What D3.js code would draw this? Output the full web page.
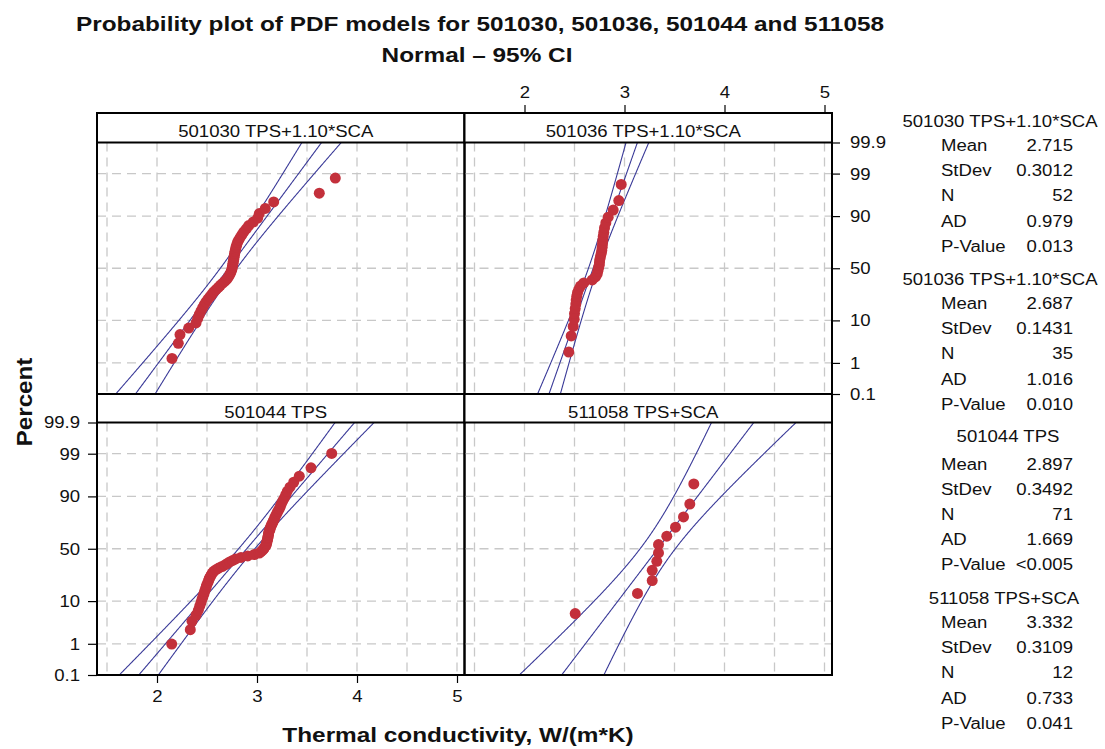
<!DOCTYPE html>
<html>
<head>
<meta charset="utf-8">
<script src="https://cdn.jsdelivr.net/npm/d3@7"></script>
<style>
  body { margin: 0; background: #fff; }
  svg { display: block; }
  svg text { font-family: "Liberation Sans", Arial, Helvetica, sans-serif; fill: #111; }
</style>
</head>
<body>
<div id="vis"></div>
<script>
// ---- data ----
const groups = ['501030 TPS+1.10*SCA', '501036 TPS+1.10*SCA', '501044 TPS', '511058 TPS+SCA']
const means = [2.715, 2.687, 2.897, 3.332]
const stdevs = [0.3012, 0.1431, 0.3492, 0.3109]
const counts = [52, 35, 71, 12]
const adStats = ['0.979', '1.016', '1.669', '0.733']
const pValues = ['0.013', '0.010', '<0.005', '0.041']

// sorted observations (W/(m*K)) per group
const obs501030 = [2.150, 2.213, 2.230, 2.317, 2.390, 2.407, 2.423, 2.440, 2.457, 2.473,
  2.490, 2.510, 2.530, 2.550, 2.567, 2.590, 2.613, 2.633, 2.657, 2.680,
  2.700, 2.713, 2.725, 2.735, 2.743, 2.749, 2.753, 2.757, 2.760, 2.763,
  2.767, 2.770, 2.773, 2.777, 2.781, 2.786, 2.791, 2.798, 2.806, 2.818,
  2.833, 2.850, 2.868, 2.893, 2.917, 2.963, 3.007, 3.023, 3.083, 3.167,
  3.623, 3.783]
const obs501036 = [2.443, 2.467, 2.487, 2.497, 2.500, 2.507, 2.513, 2.517, 2.523, 2.530,
  2.543, 2.560, 2.593, 2.677, 2.710, 2.727, 2.733, 2.740, 2.747, 2.750,
  2.753, 2.760, 2.767, 2.773, 2.777, 2.780, 2.783, 2.787, 2.793, 2.800,
  2.813, 2.837, 2.887, 2.943, 2.967]
const obs501044 = [2.147, 2.333, 2.350, 2.390, 2.413, 2.427, 2.440, 2.450, 2.460, 2.470,
  2.477, 2.487, 2.493, 2.500, 2.510, 2.517, 2.523, 2.533, 2.543, 2.553,
  2.567, 2.590, 2.617, 2.650, 2.680, 2.703, 2.727, 2.757, 2.787, 2.840,
  2.907, 2.973, 3.023, 3.040, 3.057, 3.067, 3.077, 3.087, 3.093, 3.097,
  3.100, 3.103, 3.107, 3.110, 3.113, 3.115, 3.117, 3.123, 3.130, 3.133,
  3.140, 3.147, 3.157, 3.163, 3.173, 3.180, 3.190, 3.200, 3.210, 3.223,
  3.233, 3.243, 3.257, 3.273, 3.287, 3.303, 3.330, 3.367, 3.423, 3.540,
  3.747]
const obs511058 = [2.507, 3.130, 3.277, 3.277, 3.323, 3.340, 3.340, 3.423, 3.510, 3.590, 3.653, 3.693]
const observations = [obs501030, obs501036, obs501044, obs511058]

const percentTicks = [0.1, 1, 10, 50, 90, 99, 99.9]
const xTicks = [2, 3, 4, 5]
const xGrid = [1.5, 2, 2.5, 3, 3.5, 4, 4.5, 5]
const statNames = ['Mean', 'StDev', 'N', 'AD', 'P-Value']

// ---- layout ----
const W = 1105, H = 749
const SX = 1.16   // text in the reference is a bit wide
const colX = [97, 464.5, 832]
const rows = [
  { top: 113, strip: 142.5, bottom: 394 },
  { top: 394, strip: 422.5, bottom: 675 }
]
const zMax = 3.0902
const lineColor = '#3a3a98', dotColor = '#c3303b', gridColor = '#c8c8c8'

const svg = d3.select('#vis').append('svg')
  .attr('width', W).attr('height', H)
svg.append('rect').attr('width', W).attr('height', H).attr('fill', '#fff')

// inverse normal cdf (Acklam)
function qnorm(p) {
  const a = [-3.969683028665376e+01, 2.209460984245205e+02, -2.759285104469687e+02, 1.383577518672690e+02, -3.066479806614716e+01, 2.506628277459239e+00]
  const b = [-5.447609879822406e+01, 1.615858368580409e+02, -1.556989798598866e+02, 6.680131188771972e+01, -1.328068155288572e+01]
  const c = [-7.784894002430293e-03, -3.223964580411365e-01, -2.400758277161838e+00, -2.549732539343734e+00, 4.374664141464968e+00, 2.938163982698783e+00]
  const d = [7.784695709041462e-03, 3.224671290700398e-01, 2.445134137142996e+00, 3.754408661907416e+00]
  const pl = 0.02425
  let q, r
  if (p < pl) {
    q = Math.sqrt(-2 * Math.log(p))
    return (((((c[0]*q+c[1])*q+c[2])*q+c[3])*q+c[4])*q+c[5]) / ((((d[0]*q+d[1])*q+d[2])*q+d[3])*q+1)
  }
  if (p > 1 - pl) {
    q = Math.sqrt(-2 * Math.log(1 - p))
    return -(((((c[0]*q+c[1])*q+c[2])*q+c[3])*q+c[4])*q+c[5]) / ((((d[0]*q+d[1])*q+d[2])*q+d[3])*q+1)
  }
  q = p - 0.5; r = q * q
  return (((((a[0]*r+a[1])*r+a[2])*r+a[3])*r+a[4])*r+a[5])*q / (((((b[0]*r+b[1])*r+b[2])*r+b[3])*r+b[4])*r+1)
}

function label(parent, x, y, str, size, anchor, weight) {
  return parent.append('text')
    .attr('transform', `translate(${x},${y}) scale(${SX},1)`)
    .attr('text-anchor', anchor || 'start')
    .style('font-size', size + 'px')
    .style('font-weight', weight || 'normal')
    .text(str)
}

function styleAxis(g) {
  g.attr('font-size', null).attr('font-family', null)
  g.select('.domain').remove()
  g.selectAll('.tick line').attr('stroke', '#000').attr('stroke-width', 1.2)
  g.selectAll('.tick text')
    .style('font-size', '16px')
    .attr('fill', '#111')
    .each(function () {
      const t = d3.select(this)
      const x = +t.attr('x') || 0
      t.attr('x', x / SX).attr('transform', `scale(${SX},1)`)
    })
}

// titles
label(svg, 480, 30.5, 'Probability plot of PDF models for 501030, 501036, 501044 and 511058', 21, 'middle', 'bold')
label(svg, 477, 62, 'Normal \u2013 95% CI', 21, 'middle', 'bold')

const defs = svg.append('defs')
const zTicks = percentTicks.map(p => qnorm(p / 100))

groups.forEach((name, i) => {
  const col = i % 2, row = rows[Math.floor(i / 2)]
  const x0 = colX[col], x1 = colX[col + 1]
  const xScale = d3.scaleLinear().domain([1.4, 5.075]).range([x0, x1])
  const yScale = d3.scaleLinear().domain([-zMax, zMax]).range([row.bottom, row.strip])
  const g = svg.append('g')

  defs.append('clipPath').attr('id', 'clip' + i)
    .append('rect').attr('x', x0).attr('y', row.strip).attr('width', x1 - x0).attr('height', row.bottom - row.strip)

  // grid
  g.append('g').selectAll('line')
    .data(zTicks.slice(1, -1))
    .join('line')
    .attr('x1', x0).attr('x2', x1)
    .attr('y1', d => yScale(d)).attr('y2', d => yScale(d))
    .attr('stroke', gridColor).attr('stroke-width', 1.3).attr('stroke-dasharray', '9,6')
  g.append('g').selectAll('line')
    .data(xGrid)
    .join('line')
    .attr('x1', d => xScale(d)).attr('x2', d => xScale(d))
    .attr('y1', row.strip).attr('y2', row.bottom)
    .attr('stroke', gridColor).attr('stroke-width', 1.3).attr('stroke-dasharray', '9,6')

  // fitted line and 95% CI from mean, stdev, N
  const m = means[i], s = stdevs[i], n = counts[i]
  const zs = d3.range(-3.2, 3.2001, 0.02)
  const half = z => 1.96 * s * Math.sqrt(1 / n + z * z / (2 * n))
  const fits = [z => m + s * z - half(z), z => m + s * z, z => m + s * z + half(z)]
  const line = d3.line().x(d => d[0]).y(d => d[1])
  g.append('g').attr('clip-path', `url(#clip${i})`)
    .selectAll('path')
    .data(fits)
    .join('path')
    .attr('d', f => line(zs.map(z => [xScale(f(z)), yScale(z)])))
    .attr('fill', 'none').attr('stroke', lineColor).attr('stroke-width', 1.1)

  // points at median ranks
  const obs = observations[i]
  g.append('g').selectAll('circle')
    .data(obs)
    .join('circle')
    .attr('cx', d => xScale(d))
    .attr('cy', (d, k) => yScale(qnorm((k + 1 - 0.3) / (obs.length + 0.4))))
    .attr('r', 5.5)
    .attr('fill', dotColor)

  // frame + strip
  g.append('rect')
    .attr('x', x0).attr('y', row.top).attr('width', x1 - x0).attr('height', row.bottom - row.top)
    .attr('fill', 'none').attr('stroke', '#000').attr('stroke-width', 2)
  g.append('rect')
    .attr('x', x0).attr('y', row.top).attr('width', x1 - x0).attr('height', row.strip - row.top)
    .attr('fill', '#fff').attr('stroke', '#000').attr('stroke-width', 2)
  label(g, (x0 + x1) / 2 - 5, row.top + 24, name, 16, 'middle')

  // axes
  const pLabels = percentTicks.map(String)
  if (i === 1) {
    const top = svg.append('g').attr('transform', `translate(0,${row.top})`)
      .call(d3.axisTop(xScale).tickValues(xTicks).tickFormat(d3.format('d')).tickSize(8).tickPadding(7))
    styleAxis(top)
    const right = svg.append('g').attr('transform', `translate(${x1},0)`)
      .call(d3.axisRight(yScale).tickValues(zTicks).tickFormat((d, k) => pLabels[k]).tickSize(8).tickPadding(10))
    styleAxis(right)
    right.selectAll('.tick text').attr('dy', '0.34em')
  }
  if (i === 2) {
    const bottom = svg.append('g').attr('transform', `translate(0,${row.bottom})`)
      .call(d3.axisBottom(xScale).tickValues(xTicks).tickFormat(d3.format('d')).tickSize(8).tickPadding(8))
    styleAxis(bottom)
    const left = svg.append('g').attr('transform', `translate(${x0},0)`)
      .call(d3.axisLeft(yScale).tickValues(zTicks).tickFormat((d, k) => pLabels[k]).tickSize(9).tickPadding(8))
    styleAxis(left)
    left.selectAll('.tick text').attr('dy', '0.34em')
  }
})

// axis titles
label(svg, 458, 742, 'Thermal conductivity, W/(m*K)', 21, 'middle', 'bold')
svg.append('text')
  .attr('transform', 'translate(31.5,402) rotate(-90) scale(1.1,1)')
  .attr('text-anchor', 'middle')
  .style('font-size', '22px').style('font-weight', 'bold')
  .text('Percent')

// stats legend
const headX = [1000, 1000, 1008, 1004]
const headY = [121, 279, 436, 598]
const firstRowY = [145.5, 303.5, 464, 622.5]
const legend = svg.append('g')
groups.forEach((name, i) => {
  label(legend, headX[i], headY[i] + 5.5, name, 16, 'middle')
  const vals = [means[i].toFixed(3), stdevs[i].toFixed(4), String(counts[i]), adStats[i], pValues[i]]
  statNames.forEach((s, k) => {
    const y = firstRowY[i] + k * 25.2 + 5.5
    label(legend, 941, y, s, 16, 'start')
    label(legend, 1073, y, vals[k], 16, 'end')
  })
})
</script>
</body>
</html>
